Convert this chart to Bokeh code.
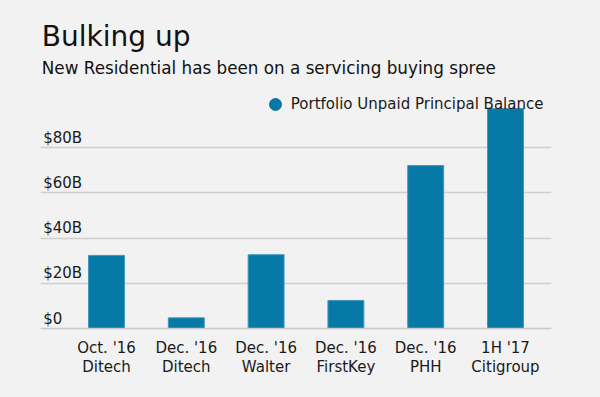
from bokeh.plotting import figure
from bokeh.models import (Range1d, FixedTicker, Label, Legend, LegendItem,
                          ColumnDataSource)
from bokeh.embed import file_html
from bokeh.resources import INLINE
from bokeh.core.properties import value

# ---- data ----
label_line1 = ["Oct. '16", "Dec. '16", "Dec. '16", "Dec. '16", "Dec. '16", "1H '17"]
label_line2 = ["Ditech", "Ditech", "Walter", "FirstKey", "PHH", "Citigroup"]
upb_billions = [32.3, 4.7, 32.6, 12.4, 72.0, 97.2]
y_ticks = [0, 20, 40, 60, 80]
y_tick_labels = ["$0", "$20B", "$40B", "$60B", "$80B"]
series_name = "Portfolio Unpaid Principal Balance"
title_text = "Bulking up"
subtitle_text = "New Residential has been on a servicing buying spree"

# ---- layout constants ----
W, H = 584, 381
BG = "#f2f2f2"
BAR = "#0779a7"
FONT = "DejaVu Sans"
TXT = "#1a1a1a"
FL, FR, FT, FB = 32, 543, 0, 320          # frame edges (px)
PX_PER_CAT = 79.8
PX_PER_B = 2.2625
first_center_px = 98.0
x_start = -(first_center_px - FL) / PX_PER_CAT
x_end = x_start + (FR - FL) / PX_PER_CAT
y_end = (FB - FT) / PX_PER_B

def px_x(px):
    return x_start + (px - FL) / PX_PER_CAT

def px_y(py):
    return (FB - py) / PX_PER_B

xs = list(range(len(upb_billions)))

p = figure(width=W, height=H, output_backend="svg", toolbar_location=None,
           x_range=Range1d(x_start, x_end), y_range=Range1d(0, y_end),
           min_border_left=FL, min_border_right=W - FR,
           min_border_top=FT, min_border_bottom=H - FB)
p.background_fill_color = BG
p.border_fill_color = BG
p.outline_line_color = None

src = ColumnDataSource(dict(x=xs, top=upb_billions))
bars = p.vbar(x="x", top="top", width=0.45, source=src,
              fill_color=BAR, line_color="#3f97bd", line_width=1)

# axes
p.yaxis.visible = False
p.yaxis.ticker = FixedTicker(ticks=y_ticks)
p.ygrid.grid_line_color = "#cfcfcf"
p.ygrid.grid_line_width = 1.5
p.xgrid.visible = False

xa = p.xaxis[0]
xa.ticker = FixedTicker(ticks=xs)
xa.major_label_overrides = {i: f"{a}\n{b}" for i, (a, b) in enumerate(zip(label_line1, label_line2))}
xa.major_tick_line_color = None
xa.minor_tick_line_color = None
xa.axis_line_color = "#c8c8c8"
xa.axis_line_width = 1.5
xa.major_label_text_font = FONT
xa.major_label_text_font_size = "15px"
xa.major_label_text_color = TXT
xa.major_label_text_line_height = 1.1
xa.major_label_standoff = 4

# y tick labels inside plot
ysrc = ColumnDataSource(dict(x=[px_x(FL + 2.7)] * len(y_ticks), y=y_ticks, t=y_tick_labels))
p.text(x="x", y="y", text="t", source=ysrc, text_font=value(FONT),
       text_font_size="15px", text_color=TXT, text_baseline="alphabetic",
       text_align="left", y_offset=-10)

# title / subtitle
p.add_layout(Label(x=px_x(33.3), y=px_y(28), text=title_text, text_font=FONT,
                   text_font_size="28px", text_color="#111111",
                   text_baseline="alphabetic"))
p.add_layout(Label(x=px_x(33.3), y=px_y(59.5), text=subtitle_text, text_font=FONT,
                   text_font_size="16.8px", text_color="#111111",
                   text_baseline="alphabetic"))

# legend
dummy = p.scatter(x=[float("nan")], y=[float("nan")], marker="circle", size=12,
                  fill_color=BAR, line_color=BAR)
leg = Legend(items=[LegendItem(label=series_name, renderers=[dummy])],
             location=(219.8, 209), orientation="horizontal",
             glyph_width=30, glyph_height=30, label_height=30,
             label_standoff=1, padding=0, margin=0, spacing=0,
             background_fill_alpha=0, border_line_color=None,
             label_text_font=FONT, label_text_font_size="15px",
             label_text_color=TXT)
p.add_layout(leg, "center")

template = """{% block postamble %}<style>html, body { background-color: #f2f2f2; } body { padding: 8px !important; box-sizing: border-box !important; }</style>{% endblock %}"""
html = file_html(p, INLINE, title="Bulking up", template=template)
open("out.html", "w").write(html)
